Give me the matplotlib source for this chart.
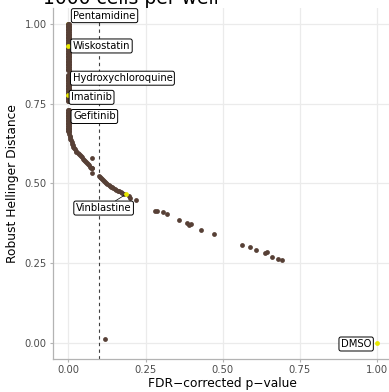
import matplotlib
matplotlib.use("Agg")
import matplotlib.pyplot as plt

# compounds sitting at p ~ 0 (the dense column)
column_y = [1.0, 0.995, 0.99, 0.985, 0.98, 0.975, 0.97, 0.965, 0.96, 0.955, 0.95, 0.945,
            0.94, 0.935, 0.925, 0.92, 0.915, 0.91, 0.905, 0.9, 0.895, 0.89, 0.885, 0.88,
            0.875, 0.87, 0.865, 0.86, 0.855, 0.84, 0.835, 0.83, 0.825, 0.82, 0.815, 0.81,
            0.805, 0.8, 0.795, 0.79, 0.785, 0.78, 0.772, 0.768, 0.765, 0.76, 0.73, 0.725,
            0.72, 0.715, 0.71, 0.705, 0.70, 0.695, 0.69, 0.685, 0.68, 0.675, 0.67, 0.665]

curve_x = [0.002, 0.003, 0.004, 0.005, 0.006, 0.008, 0.01, 0.012, 0.014, 0.016, 0.018,
           0.02, 0.023, 0.026, 0.03, 0.033, 0.036, 0.04, 0.043, 0.046, 0.05, 0.053,
           0.056, 0.06, 0.063, 0.066, 0.07, 0.073, 0.076, 0.078, 0.077, 0.075,
           0.1, 0.102, 0.105, 0.108, 0.111, 0.115, 0.118, 0.122, 0.126, 0.13, 0.134,
           0.138, 0.142, 0.146, 0.15, 0.155, 0.16, 0.165, 0.17, 0.175, 0.18, 0.196,
           0.2, 0.22,
           0.279, 0.286, 0.305, 0.318, 0.357, 0.383, 0.39, 0.396, 0.428, 0.471,
           0.562, 0.588, 0.607, 0.636, 0.643, 0.659, 0.679, 0.691,
           0.12]
curve_y = [0.66, 0.655, 0.65, 0.645, 0.64, 0.635, 0.63, 0.625, 0.62, 0.615, 0.612,
           0.608, 0.603, 0.6, 0.597, 0.593, 0.59, 0.585, 0.582, 0.578, 0.574, 0.571,
           0.567, 0.563, 0.56, 0.557, 0.553, 0.55, 0.547, 0.58, 0.55, 0.533,
           0.525, 0.52, 0.517, 0.514, 0.511, 0.508, 0.505, 0.502, 0.499, 0.496, 0.493,
           0.49, 0.488, 0.485, 0.483, 0.48, 0.478, 0.475, 0.472, 0.47, 0.468, 0.46,
           0.456, 0.448,
           0.413, 0.413, 0.41, 0.404, 0.385, 0.375, 0.369, 0.372, 0.353, 0.341,
           0.306, 0.30, 0.293, 0.281, 0.284, 0.271, 0.262, 0.259,
           0.013]

# highlighted compounds
hl_names = ["Pentamidine", "Wiskostatin", "Hydroxychloroquine", "Imatinib",
            "Gefitinib", "Vinblastine", "DMSO"]
hl_x = [0.0, 0.0, 0.0, 0.0, 0.0, 0.188, 1.0]
hl_y = [1.0, 0.93, 0.83, 0.776, 0.71, 0.467, 0.0]
label_x = [0.117, 0.107, 0.175, 0.075, 0.084, 0.114, 0.932]
label_y = [1.026, 0.931, 0.83, 0.770, 0.71, 0.423, -0.003]
shown_yellow = [False, True, False, True, False, True, True]

fig = plt.figure(figsize=(3.89, 3.92), dpi=100)
ax = fig.add_axes([0.1362, 0.0842, 0.873, 0.8954])

brown = "#574036"
ax.scatter([0.0] * len(column_y), column_y, s=13, color=brown, lw=0, zorder=3)
ax.scatter([0.003] * len(column_y), column_y, s=13, color=brown, lw=0, zorder=3)
ax.scatter(curve_x, curve_y, s=12, color=brown, lw=0, zorder=3)
for x, y, show in zip(hl_x, hl_y, shown_yellow):
    ax.scatter([x], [y], s=12, color="#E8E800", lw=0, zorder=4 if show else 2)

ax.axvline(0.1, color="#404040", ls=(0, (3, 3)), lw=0.8, zorder=2)

for name, x, y, lx, ly in zip(hl_names, hl_x, hl_y, label_x, label_y):
    ax.annotate(name, xy=(x, y), xytext=(lx, ly), fontsize=7.2, ha="center", va="center",
                color="black", zorder=5,
                bbox=dict(boxstyle="round,pad=0.2,rounding_size=0.2", fc="white", ec="black", lw=0.7),
                arrowprops=dict(arrowstyle="-", color="black", lw=0.5,
                                shrinkA=0, shrinkB=2) if name == "Vinblastine" else None)

ax.set_xlim(-0.05, 1.05)
ax.set_ylim(-0.05, 1.05)
ax.set_xticks([0, 0.25, 0.5, 0.75, 1.0])
ax.set_yticks([0, 0.25, 0.5, 0.75, 1.0])
ax.set_xticklabels(["0.00", "0.25", "0.50", "0.75", "1.00"])
ax.set_yticklabels(["0.00", "0.25", "0.50", "0.75", "1.00"])
ax.grid(True, color="#EBEBEB", lw=0.9, zorder=0)
ax.set_axisbelow(True)
for side in ["top", "right"]:
    ax.spines[side].set_visible(False)
for side in ["left", "bottom"]:
    ax.spines[side].set_color("#B3B3B3")
    ax.spines[side].set_linewidth(0.9)
ax.tick_params(length=2.5, color="#B3B3B3", labelsize=7.2, labelcolor="#4D4D4D", pad=2)

ax.set_xlabel("FDR\u2212corrected p\u2212value", fontsize=8.8, labelpad=1.5)
ax.set_ylabel("Robust Hellinger Distance", fontsize=8.8, labelpad=4)

fig.text(43 / 389, 1 - 4.5 / 392, "1000 cells per well", fontsize=13.5, ha="left", va="baseline")

fig.savefig("out.png", dpi=100)
